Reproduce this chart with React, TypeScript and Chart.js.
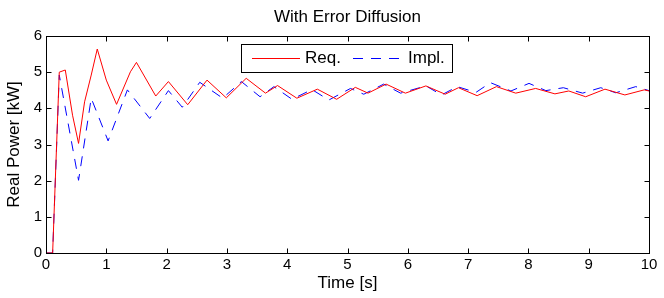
import React, { useEffect, useRef } from 'react';
import { Chart, registerables } from 'chart.js';

Chart.register(...registerables);

// Requested power (red, solid)
const reqTime = [0, 0.11, 0.22, 0.32, 0.44, 0.54, 0.64, 0.75, 0.85, 1.0, 1.17, 1.4, 1.5, 1.82, 2.03, 2.35, 2.67, 2.99, 3.32, 3.64, 3.84, 4.16, 4.5, 4.82, 5.13, 5.34, 5.64, 5.96, 6.3, 6.62, 6.84, 7.15, 7.47, 7.79, 8.12, 8.44, 8.67, 8.95, 9.27, 9.6, 9.92, 10];
const reqPower = [0, 0, 5.0, 5.06, 3.81, 3.03, 4.18, 4.92, 5.64, 4.78, 4.11, 5.01, 5.27, 4.34, 4.74, 4.1, 4.78, 4.29, 4.83, 4.42, 4.63, 4.28, 4.53, 4.25, 4.58, 4.42, 4.67, 4.42, 4.62, 4.39, 4.57, 4.35, 4.6, 4.42, 4.55, 4.4, 4.48, 4.32, 4.53, 4.37, 4.51, 4.48];

// Implemented power (blue, dashed)
const implTime = [0, 0.11, 0.22, 0.54, 0.75, 1.03, 1.35, 1.72, 2.03, 2.26, 2.55, 2.93, 3.24, 3.55, 3.78, 4.08, 4.41, 4.69, 5.05, 5.27, 5.6, 5.88, 6.3, 6.56, 6.82, 7.13, 7.37, 7.71, 8.01, 8.29, 8.58, 8.9, 9.2, 9.45, 9.78, 10];
const implPower = [0, 0, 4.92, 2.01, 4.28, 3.1, 4.51, 3.72, 4.49, 4.03, 4.72, 4.28, 4.74, 4.32, 4.6, 4.25, 4.52, 4.23, 4.55, 4.39, 4.67, 4.42, 4.62, 4.37, 4.6, 4.44, 4.71, 4.48, 4.69, 4.49, 4.57, 4.42, 4.57, 4.43, 4.6, 4.49];

const xTicks = [0, 1, 2, 3, 4, 5, 6, 7, 8, 9, 10];
const yTicks = [0, 1, 2, 3, 4, 5, 6];

const seriesLabels = ['Req.', 'Impl.'];
const titleText = 'With Error Diffusion';
const xLabel = 'Time [s]';
const yLabel = 'Real Power [kW]';

const FONT = '"Liberation Sans", Arial, Helvetica, sans-serif';
const RED = '#ff0000';
const BLUE = '#0000ff';
const DASH = [10, 8];

const toPoints = (xs: number[], ys: number[]) => xs.map((x, i) => ({ x, y: ys[i] }));

const matlabPlugin = {
  id: 'matlabBox',
  afterDraw(chart: any) {
    const { ctx, chartArea, scales } = chart;
    const l = Math.round(chartArea.left) + 0.5;
    const r = Math.round(chartArea.right) + 0.5;
    const t = Math.round(chartArea.top) + 0.5;
    const b = Math.round(chartArea.bottom) + 0.5;
    const tl = 5;
    ctx.save();
    ctx.strokeStyle = '#000';
    ctx.lineWidth = 1;
    ctx.setLineDash([]);
    ctx.strokeRect(l, t, r - l, b - t);
    ctx.beginPath();
    xTicks.forEach((v) => {
      const px = Math.round(scales.x.getPixelForValue(v)) + 0.5;
      ctx.moveTo(px, b);
      ctx.lineTo(px, b - tl);
      ctx.moveTo(px, t);
      ctx.lineTo(px, t + tl);
    });
    yTicks.forEach((v) => {
      const py = Math.round(scales.y.getPixelForValue(v)) + 0.5;
      ctx.moveTo(l, py);
      ctx.lineTo(l + tl, py);
      ctx.moveTo(r, py);
      ctx.lineTo(r - tl, py);
    });
    ctx.stroke();

    // legend inside the axes
    const bx = 241.5, by = 44.5, bw = 211, bh = 28;
    ctx.fillStyle = '#fff';
    ctx.fillRect(bx, by, bw, bh);
    ctx.strokeStyle = '#000';
    ctx.strokeRect(bx, by, bw, bh);
    const ly = 58.5;
    ctx.lineWidth = 1;
    ctx.strokeStyle = RED;
    ctx.beginPath();
    ctx.moveTo(252, ly);
    ctx.lineTo(300, ly);
    ctx.stroke();
    ctx.strokeStyle = BLUE;
    ctx.setLineDash(DASH);
    ctx.beginPath();
    ctx.moveTo(353, ly);
    ctx.lineTo(403, ly);
    ctx.stroke();
    ctx.setLineDash([]);
    ctx.fillStyle = '#000';
    ctx.font = `17px ${FONT}`;
    ctx.textBaseline = 'middle';
    ctx.textAlign = 'left';
    ctx.fillText(seriesLabels[0], 305, ly);
    ctx.fillText(seriesLabels[1], 408, ly);
    ctx.restore();
  },
};

export default function App() {
  const ref = useRef<HTMLCanvasElement | null>(null);

  useEffect(() => {
    document.body.style.margin = '0';
    if (!ref.current) return;
    const chart = new Chart(ref.current, {
      type: 'scatter',
      data: {
        datasets: [
          {
            label: seriesLabels[0],
            data: toPoints(reqTime, reqPower),
            showLine: true,
            borderColor: RED,
            backgroundColor: RED,
            borderWidth: 1,
            pointRadius: 0,
            tension: 0,
          },
          {
            label: seriesLabels[1],
            data: toPoints(implTime, implPower),
            showLine: true,
            borderColor: BLUE,
            backgroundColor: BLUE,
            borderWidth: 1,
            borderDash: DASH,
            pointRadius: 0,
            tension: 0,
          },
        ],
      },
      options: {
        responsive: false,
        animation: false,
        devicePixelRatio: 1,
        layout: { padding: { left: 0, right: 15, top: 0, bottom: 0 } },
        plugins: {
          legend: { display: false },
          tooltip: { enabled: false },
          title: {
            display: true,
            fullSize: false,
            text: titleText,
            color: '#000',
            font: { family: FONT, size: 17, weight: 'normal' },
            padding: { top: 7.3, bottom: 8.3 },
          },
        },
        scales: {
          x: {
            type: 'linear',
            min: 0,
            max: 10,
            afterBuildTicks: (s: any) => { s.ticks = xTicks.map((v) => ({ value: v })); },
            afterFit: (s: any) => { s.height = 45; },
            grid: { display: false, drawTicks: false },
            border: { display: false },
            ticks: { color: '#000', padding: 3, font: { family: FONT, size: 15 }, maxRotation: 0 },
            title: {
              display: true,
              text: xLabel,
              color: '#000',
              font: { family: FONT, size: 17 },
              padding: { top: 0, bottom: 4.8 },
            },
          },
          y: {
            type: 'linear',
            min: 0,
            max: 6,
            afterBuildTicks: (s: any) => { s.ticks = yTicks.map((v) => ({ value: v })); },
            afterFit: (s: any) => { s.width = 46; },
            grid: { display: false, drawTicks: false },
            border: { display: false },
            ticks: { color: '#000', padding: 4, font: { family: FONT, size: 15 } },
            title: {
              display: true,
              text: yLabel,
              color: '#000',
              font: { family: FONT, size: 17 },
              padding: { top: 3.8, bottom: 0 },
            },
          },
        },
      },
      plugins: [matlabPlugin],
    });
    return () => chart.destroy();
  }, []);

  return (
    <div style={{ width: 664, height: 298, background: '#fff' }}>
      <canvas ref={ref} width={664} height={298} style={{ display: 'block' }} />
    </div>
  );
}
